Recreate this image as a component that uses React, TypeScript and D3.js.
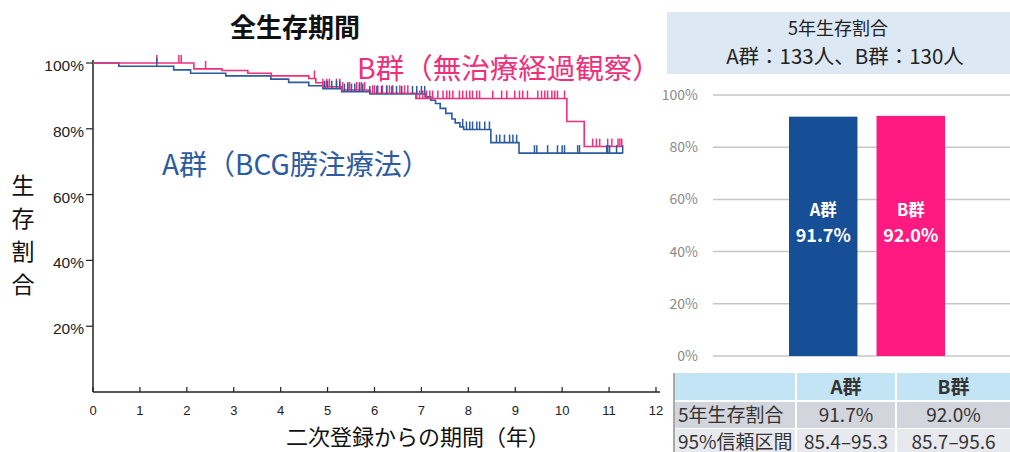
import React from 'react';
import * as d3 from 'd3';

// Kaplan-Meier steps (time in years, survival after the step)
const timesA = [0, 0.55, 1.72, 2.08, 2.83, 3.79, 4.17, 4.6, 4.9, 5.3, 5.9, 7.08, 7.2, 7.3, 7.4, 7.52, 7.65, 7.72, 7.82, 7.9, 8.48, 9.08];
const survA = [1, 0.99, 0.979, 0.969, 0.961, 0.951, 0.941, 0.931, 0.922, 0.913, 0.906, 0.897, 0.887, 0.877, 0.862, 0.847, 0.83, 0.818, 0.806, 0.798, 0.758, 0.726];
const censorA = [1.36, 4.94, 5.0, 5.09, 5.19, 5.26, 5.36, 5.43, 5.51, 5.58, 5.68, 5.75, 5.9, 6.05, 6.15, 6.26, 6.37, 6.47, 6.58, 6.81, 6.9, 7.0, 7.07,
  7.88, 7.96, 8.03, 8.09, 8.18, 8.24, 8.35, 8.45, 8.6, 8.67, 8.77, 8.88, 8.95, 9.03, 9.41, 9.46, 9.69, 9.9, 10.0, 10.05, 10.33, 10.37,
  10.95, 10.97, 11.01, 11.16, 11.29];

const timesB = [0, 2.15, 2.75, 3.3, 3.8, 4.6, 4.75, 4.9, 5.3, 5.9, 6.88, 10.1, 10.47];
const survB = [1, 0.982, 0.977, 0.969, 0.961, 0.953, 0.94, 0.928, 0.918, 0.908, 0.892, 0.822, 0.746];
const censorB = [1.36, 1.83, 1.88, 2.4, 4.72, 4.9, 4.98, 5.04, 5.19, 5.26, 5.32, 5.43, 5.47, 5.62, 5.68, 5.72, 5.79, 5.96, 6.0, 6.07, 6.17,
  6.26, 6.32, 6.39, 6.54, 6.64, 6.71, 6.9, 6.96, 7.03, 7.11, 7.18, 7.24, 7.35, 7.46, 7.54, 7.6, 7.67, 7.81, 7.88, 7.96, 8.03, 8.09, 8.18,
  8.24, 8.52, 8.71, 8.82, 8.99, 9.09, 9.16, 9.26, 9.48, 9.56, 9.63, 9.69, 9.78, 9.84, 9.9, 10.05, 10.65, 10.73, 10.8, 10.97, 11.06, 11.19,
  11.23, 11.27];
const endTime = 11.3;

const kmYTicks = [0.2, 0.4, 0.6, 0.8, 1.0];
const kmXTicks = d3.range(0, 13);

const barGroups = ['A群', 'B群'];
const barValues = [0.917, 0.92];
const barTicks = [0, 0.2, 0.4, 0.6, 0.8, 1.0];

const tableHeader = ['', 'A群', 'B群'];
const tableRows = [
  ['5年生存割合', '91.7%', '92.0%'],
  ['95%信頼区間', '85.4–95.3', '85.7–95.6'],
];

const BLUE = '#2d5b9f';
const PINK = '#ef2f7c';
const JP = '"Noto Sans CJK JP", "Noto Sans", sans-serif';
const LAT = '"Liberation Sans", Arial, sans-serif';

const x = d3.scaleLinear().domain([0, 12]).range([93, 656]);
const y = d3.scaleLinear().domain([0, 1]).range([392, 63]);

const stepLine = d3.line<[number, number]>()
  .x(d => x(d[0]))
  .y(d => y(d[1]))
  .curve(d3.curveStepAfter);

function curvePoints(times: number[], surv: number[]): [number, number][] {
  const pts: [number, number][] = times.map((t, i) => [t, surv[i]]);
  pts.push([endTime, surv[surv.length - 1]]);
  return pts;
}

function survAt(times: number[], surv: number[], t: number) {
  const i = d3.bisectRight(times, t) - 1;
  return surv[Math.max(0, i)];
}

const KM = () => {
  const ptsA = curvePoints(timesA, survA);
  const ptsB = curvePoints(timesB, survB);
  return (
    <g>
      <text x={295} y={37} textAnchor="middle" fontFamily={JP} fontWeight="bold" fontSize={26} fill="#111">全生存期間</text>
      {/* y axis */}
      <line x1={93} x2={93} y1={60} y2={392} stroke="#222" strokeWidth={1.5} />
      {kmYTicks.map(t => (
        <g key={t}>
          <line x1={86} x2={93} y1={y(t)} y2={y(t)} stroke="#222" strokeWidth={1.2} />
          <text x={84} y={y(t) + 8} textAnchor="end" fontFamily={LAT} fontSize={15.5} fill="#222">{d3.format('.0%')(t)}</text>
        </g>
      ))}
      {/* x axis */}
      <line x1={93} x2={660} y1={392} y2={392} stroke="#222" strokeWidth={1.5} />
      {kmXTicks.map(t => (
        <g key={t}>
          <line x1={x(t)} x2={x(t)} y1={392} y2={387} stroke="#222" strokeWidth={1.2} />
          <text x={x(t)} y={415} textAnchor="middle" fontFamily={LAT} fontSize={13} fill="#222">{t}</text>
        </g>
      ))}
      <text x={418} y={445} textAnchor="middle" fontFamily={JP} fontSize={22} fill="#111">二次登録からの期間（年）</text>
      {['生', '存', '割', '合'].map((c, i) => (
        <text key={c} x={23} y={194 + i * 33} textAnchor="middle" fontFamily={JP} fontSize={23} fill="#111">{c}</text>
      ))}
      {/* curves */}
      <path d={stepLine(ptsA) || ''} fill="none" stroke={BLUE} strokeWidth={1.6} />
      <path d={stepLine(ptsB) || ''} fill="none" stroke={PINK} strokeWidth={1.6} />
      {censorB.map((t, i) => {
        const s = survAt(timesB, survB, t);
        return <line key={'b' + i} x1={x(t)} x2={x(t)} y1={y(s)} y2={y(s) - 8} stroke={PINK} strokeWidth={1.5} />;
      })}
      {censorA.map((t, i) => {
        const s = survAt(timesA, survA, t);
        return <line key={'a' + i} x1={x(t)} x2={x(t)} y1={y(s)} y2={y(s) - 8} stroke={BLUE} strokeWidth={1.5} />;
      })}
      <text x={357} y={79} fontFamily={JP} fontSize={28.5} fill={PINK}>B群（無治療経過観察）</text>
      <text x={162} y={175} fontFamily={JP} fontSize={28} fill={BLUE}>A群（BCG膀注療法）</text>
    </g>
  );
};

const yb = d3.scaleLinear().domain([0, 1]).range([356, 95]);
const xb = d3.scaleBand<string>().domain(barGroups).range([789, 945]).paddingInner(0.218).paddingOuter(0);
const barColors = ['#174f97', '#fe1a80'];

const Bars = () => (
  <g>
    <rect x={667} y={12} width={343} height={62} fill="#dde8f5" />
    <text x={838} y={35} textAnchor="middle" fontFamily={JP} fontSize={18} fill="#222">5年生存割合</text>
    <text x={845} y={63.5} textAnchor="middle" fontFamily={JP} fontSize={20.5} fill="#222">A群：133人、B群：130人</text>
    {barTicks.map(t => (
      <g key={t}>
        <line x1={713} x2={1010} y1={yb(t)} y2={yb(t)} stroke="#c6c6c6" strokeWidth={1.5} />
        <text x={698} y={yb(t) + 5} textAnchor="end" fontFamily={JP} fontSize={14} fill="#8a8a8a">{d3.format('.0%')(t)}</text>
      </g>
    ))}
    {barGroups.map((g, i) => {
      const cx = (xb(g) || 0) + xb.bandwidth() / 2;
      return (
        <g key={g}>
          <rect x={xb(g)} y={yb(barValues[i])} width={xb.bandwidth()} height={yb(0) - yb(barValues[i])} fill={barColors[i]} />
          <text x={cx} y={216} textAnchor="middle" fontFamily={JP} fontWeight="bold" fontSize={16.5} fill="#fff">{g}</text>
          <text x={cx} y={242} textAnchor="middle" fontFamily={JP} fontWeight="bold" fontSize={18} fill="#fff">{d3.format('.1%')(barValues[i])}</text>
        </g>
      );
    })}
  </g>
);

const colX = [675, 797, 897];
const colW = [120, 98, 113];
const rowY = [373, 402, 429];
const rowH = [27, 26, 25];
const rowFill = ['#c3e4f5', '#d3d5dc', '#e8e9ee'];

const Table = () => (
  <g>
    {[tableHeader, ...tableRows].map((row, r) => (
      <g key={r}>
        {row.map((cell, c) => (
          <g key={c}>
            <rect x={colX[c]} y={rowY[r]} width={colW[c]} height={rowH[r]} fill={rowFill[r]} />
            <text
              x={c === 0 ? colX[c] + 3 : colX[c] + colW[c] / 2}
              y={rowY[r] + rowH[r] / 2 + 7}
              textAnchor={c === 0 ? 'start' : 'middle'}
              fontFamily={JP}
              fontWeight={r === 0 ? 'bold' : 'normal'}
              fontSize={19}
              fill="#333"
            >{cell}</text>
          </g>
        ))}
      </g>
    ))}
    <line x1={674} x2={674} y1={373} y2={452} stroke="#555" strokeWidth={1} />
  </g>
);

export default function App() {
  return (
    <svg width={1010} height={452} style={{ position: 'absolute', left: 0, top: 0, background: '#fff' }}>
      <KM />
      <Bars />
      <Table />
    </svg>
  );
}
